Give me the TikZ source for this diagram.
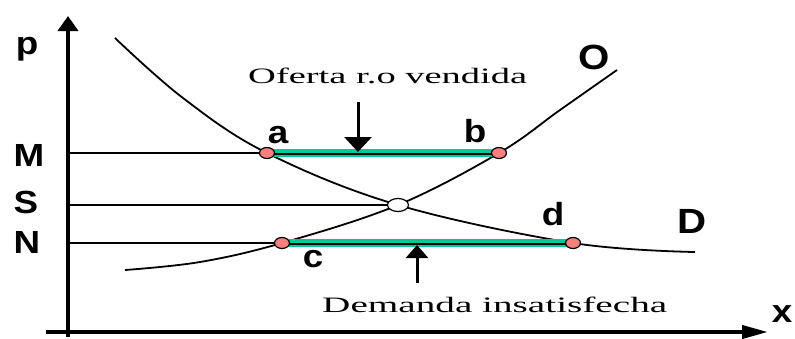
\documentclass[tikz,border=0pt]{standalone}
\usepackage{fontspec}
\setmainfont{Liberation Serif}
\newfontfamily\lblfont{Liberation Sans}
\usetikzlibrary{arrows.meta,shapes.geometric}
\definecolor{segc}{RGB}{0,200,150}
\definecolor{ptc}{RGB}{250,128,128}
\newcommand{\widen}[1]{\scalebox{1.15}[1]{#1}}
\begin{document}
\begin{tikzpicture}[x=1pt,y=-1pt,
  lbl/.style={font=\lblfont\bfseries\fontsize{32}{32}\selectfont, anchor=base, inner sep=0pt},
  bigl/.style={font=\lblfont\bfseries\fontsize{35}{35}\selectfont, anchor=base, inner sep=0pt},
  txt/.style={font=\fontsize{22}{22}\selectfont, anchor=base west, inner sep=0pt},
  curve/.style={line width=1.8pt},
  level/.style={line width=2.4pt},
  axis/.style={line width=4pt},
  dot/.style={ellipse, draw, line width=1.2pt, fill=ptc, minimum width=15pt, minimum height=11pt, inner sep=0pt},
  eq/.style={ellipse, draw, line width=1.2pt, fill=white, minimum width=21pt, minimum height=13pt, inner sep=0pt},
  pointer/.style={line width=3pt},
]
\useasboundingbox (0,0) rectangle (795,338);
% positions
\coordinate (pa) at (267,153);
\coordinate (pb) at (499,153);
\coordinate (pc) at (282,243);
\coordinate (pd) at (573,243);
\coordinate (pe) at (398,205);
% axes
\coordinate (ybot) at (68,337);
\coordinate (ytop) at (68,16);
\coordinate (xl) at (46,332);
\coordinate (xr) at (768,332);
\draw[axis, -{Triangle[width=20pt,length=15pt]}] (ybot) -- (ytop);
\draw[axis, -{Triangle[width=13pt,length=26pt]}] (xl) -- (xr);
% curves
\draw[curve] plot[smooth, tension=0.6] coordinates {(115,38) (183,98) (pa) (pe) (pd) (695,252)};
\draw[curve] plot[smooth, tension=0.6] coordinates {(125,270) (200,262) (pc) (pe) (pb) (560,110) (617,70)};
% level lines
\coordinate (yM) at (68,153);
\coordinate (yS) at (68,205);
\coordinate (yN) at (68,243);
\draw[level] (yM) -- (pa);
\draw[line width=2pt] (yS) -- (pe);
\draw[level] (yN) -- (pc);
% green segments
\draw[segc, line width=7.5pt] (pa) -- (pb);
\draw[line width=2pt] ([yshift=-1pt]pa) -- ([yshift=-1pt]pb);
\draw[segc, line width=7.5pt] (pc) -- (pd);
\draw[line width=2pt] ([yshift=-1pt]pc) -- ([yshift=-1pt]pd);
% points
\node[dot] (a) at (pa) {};
\node[dot] (b) at (pb) {};
\node[dot] (c) at (pc) {};
\node[dot] (d) at (pd) {};
\node[eq] (e) at (pe) {};
% pointer arrows
\coordinate (oftop) at (358,102);
\coordinate (oftip) at (358,152);
\draw[pointer, -{Triangle[width=27pt,length=15pt]}] (oftop) -- (oftip);
\coordinate (dmbot) at (417,283);
\coordinate (dmtip) at (417,245);
\draw[pointer, -{Triangle[width=22pt,length=13pt]}] (dmbot) -- (dmtip);
% texts
\node[txt] (oferta) at (248,83) {\resizebox{279pt}{\height}{Oferta r.o vendida}};
\node[txt] (demanda) at (322,312) {\resizebox{345pt}{\height}{Demanda insatisfecha}};
% labels
\node[lbl] (lp) at (27,54) {\widen{p}};
\node[lbl] (lM) at (29,166) {\widen{M}};
\node[lbl] (lS) at (26,213) {\widen{S}};
\node[lbl] (lN) at (27,253) {\widen{N}};
\node[lbl] (la) at (278,143) {\widen{a}};
\node[lbl] (lb) at (475,142) {\widen{b}};
\node[lbl] (lc) at (313,267) {\widen{c}};
\node[lbl] (ld) at (553,225) {\widen{d}};
\node[bigl] (lD) at (692,233) {\widen{D}};
\node[bigl] (lO) at (594,69) {\widen{O}};
\node[lbl] (lx) at (782,322) {\widen{x}};
\end{tikzpicture}
\end{document}
